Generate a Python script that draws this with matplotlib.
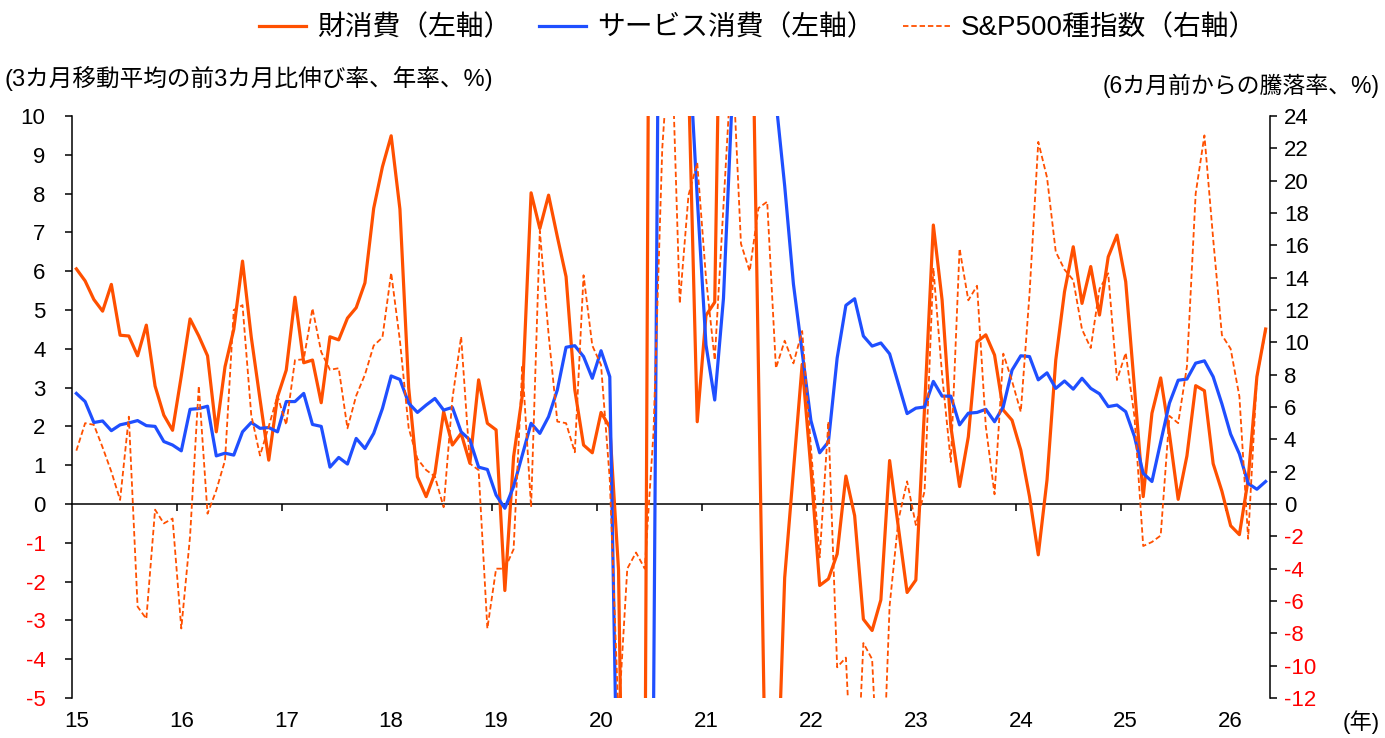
import matplotlib
matplotlib.use("Agg")
import matplotlib.pyplot as plt
from matplotlib.lines import Line2D
from matplotlib.transforms import blended_transform_factory

# monthly data, Jan 2015 - May 2026
goods = [6.06, 5.75, 5.27, 4.97, 5.66, 4.35, 4.33, 3.82, 4.61, 3.04, 2.29, 1.9,
         3.3, 4.77, 4.33, 3.82, 1.86, 3.54, 4.5, 6.26, 4.3, 2.7, 1.13, 2.76,
         3.45, 5.33, 3.64, 3.71, 2.61, 4.31, 4.23, 4.79, 5.06, 5.7, 7.62, 8.69,
         9.49, 7.6, 3.0, 0.7, 0.19, 0.79, 2.38, 1.52, 1.82, 1.05, 3.2, 2.08,
         1.91, -2.23, 1.22, 2.8, 8.02, 7.1, 7.96, 6.89, 5.86, 2.94, 1.52, 1.32,
         2.36, 1.98, -1.7, -17, -30, -9, 40, 45, 30, 15, 11, 2.12,
         4.86, 5.2, 19, 40, 30, 17, 3.5, -10, -8.6, -1.9, 0.85, 3.6,
         0.9, -2.1, -1.93, -1.29, 0.72, -0.3, -2.97, -3.26, -2.47, 1.12, -0.6, -2.28,
         -1.96, 2.5, 7.19, 5.26, 2.0, 0.45, 1.73, 4.18, 4.36, 3.84, 2.42, 2.16,
         1.39, 0.19, -1.31, 0.62, 3.71, 5.47, 6.63, 5.17, 6.12, 4.87, 6.37, 6.93,
         5.73, 3.0, 0.19, 2.34, 3.25, 1.8, 0.12, 1.24, 3.05, 2.92, 1.04, 0.33,
         -0.56, -0.79, 0.63, 3.28, 4.51]

services = [2.85, 2.64, 2.1, 2.14, 1.89, 2.04, 2.09, 2.15, 2.02, 2.0, 1.61, 1.52,
            1.37, 2.44, 2.46, 2.52, 1.24, 1.31, 1.26, 1.86, 2.1, 1.95, 1.97, 1.86,
            2.64, 2.64, 2.85, 2.05, 2.0, 0.95, 1.2, 1.03, 1.69, 1.43, 1.82, 2.46,
            3.3, 3.21, 2.6, 2.36, 2.55, 2.72, 2.42, 2.49, 1.86, 1.65, 0.95, 0.89,
            0.23, -0.11, 0.45, 1.26, 2.08, 1.82, 2.25, 2.94, 4.04, 4.08, 3.8, 3.24,
            3.95, 3.28, -9.7, -40, -45, -15, -5.5, 27, 30, 18, 12, 7.9,
            4.1, 2.68, 5.3, 10.5, 15, 14, 13, 12, 10.4, 8.2, 5.67, 3.92,
            2.15, 1.32, 1.6, 3.76, 5.12, 5.29, 4.33, 4.07, 4.15, 3.87, 3.1, 2.33,
            2.47, 2.5, 3.16, 2.78, 2.78, 2.04, 2.34, 2.36, 2.44, 2.12, 2.51, 3.45,
            3.82, 3.8, 3.2, 3.38, 2.98, 3.17, 2.96, 3.24, 2.98, 2.84, 2.51, 2.55,
            2.38, 1.74, 0.79, 0.58, 1.6, 2.6, 3.19, 3.22, 3.63, 3.69, 3.28, 2.58,
            1.8, 1.29, 0.53, 0.38, 0.58]

sp500 = [3.3, 5.0, 4.9, 3.5, 2.0, 0.25, 5.4, -6.35, -7.1, -0.35, -1.2, -0.9,
         -7.7, -2.0, 7.3, -0.6, 0.85, 2.7, 12.0, 12.3, 5.5, 3.0, 4.8, 6.7,
         4.9, 8.9, 8.95, 12.1, 9.4, 8.3, 8.4, 4.68, 6.7, 8.0, 9.8, 10.3,
         14.3, 10.1, 4.7, 2.8, 2.1, 1.7, -0.2, 6.5, 10.35, 2.5, 2.1, -7.7,
         -4.0, -4.0, -2.8, 8.6, -0.2, 16.9, 10.5, 5.1, 5.0, 3.2, 14.15, 9.8,
         8.6, 1.5, -13.2, -4.0, -3.0, -4.0, 4.45, 22, 30, 12.4, 19.1, 21.1,
         14, 8.9, 18.5, 28, 16.1, 14.4, 18.3, 18.7, 8.4, 10.1, 8.7, 10.7,
         3.5, -3.3, 5.1, -10.1, -9.5, -20.6, -8.6, -9.6, -20.8, -6.3, -1.0, 1.4,
         -1.3, 0.8, 14.6, 8.0, 2.6, 15.8, 12.6, 13.5, 4.8, 0.6, 9.3, 7.6,
         5.7, 13.0, 22.4, 20.2, 15.6, 14.5, 13.85, 10.8, 9.65, 13.3, 14.27, 7.67,
         9.35, 5.4, -2.6, -2.35, -1.95, 5.45, 5.0, 8.5, 19.2, 22.8, 16.4, 10.45,
         9.6, 6.65, -2.15, 7.87, 10.7]

year_labels = ['15', '16', '17', '18', '19', '20', '21', '22', '23', '24', '25', '26']
left_ticks = list(range(-5, 11))
right_ticks = list(range(-12, 25, 2))

orange = '#FF5000'
blue = '#1F4FFF'
plt.rcParams['font.family'] = ['Liberation Sans', 'Noto Sans CJK JP', 'DejaVu Sans']

fig = plt.figure(figsize=(13.85, 7.38), dpi=100)
ax = fig.add_axes([72 / 1385, 40 / 738, 1198 / 1385, 582 / 738])
ax2 = ax.twinx()

x = list(range(len(goods)))
ax.plot(x, goods, color=orange, lw=2.3, zorder=3)
ax.plot(x, services, color=blue, lw=2.3, zorder=3)
ax2.plot(x, sp500, color=orange, lw=1.3, linestyle=(0, (3, 1.6)))

ax.set_xlim(-0.5, len(goods) - 0.5)
ax.set_ylim(-5, 10)
ax2.set_ylim(-12, 24)

# x axis sits on the zero line, ticks at year boundaries
ax.spines['top'].set_visible(False)
ax.spines['right'].set_visible(False)
ax.spines['bottom'].set_position(('data', 0))
for a in (ax, ax2):
    for s in a.spines.values():
        s.set_linewidth(1.1)
ax2.spines['top'].set_visible(False)
ax2.spines['left'].set_visible(False)
ax2.spines['bottom'].set_visible(False)

ax.set_xticks([12 * k - 0.5 for k in range(1, len(year_labels))])
ax.tick_params(axis='x', direction='out', length=5, width=1.1, labelbottom=False)
trans = blended_transform_factory(ax.transData, ax.transAxes)
for k, lab in enumerate(year_labels):
    ax.text(12 * k, -0.041, lab, transform=trans, ha='center', va='center', fontsize=16)

ax.set_yticks(left_ticks)
ax.set_yticklabels([str(t) for t in left_ticks])
ax.tick_params(axis='y', direction='out', length=5, width=1.1, labelsize=16, pad=14)
for t, lab in zip(left_ticks, ax.get_yticklabels()):
    lab.set_color('#FF0000' if t < 0 else 'black')

ax2.set_yticks(right_ticks)
ax2.set_yticklabels([str(t) for t in right_ticks])
ax2.tick_params(axis='y', direction='out', length=5, width=1.1, labelsize=16, pad=5)
for t, lab in zip(right_ticks, ax2.get_yticklabels()):
    lab.set_color('#FF0000' if t < 0 else 'black')

fig.text(5 / 1385, 1 - 78 / 738, '(3カ月移動平均の前3カ月比伸び率、年率、%)',
         ha='left', va='center', fontsize=17)
fig.text(1380 / 1385, 1 - 86 / 738, '(6カ月前からの騰落率、%)',
         ha='right', va='center', fontsize=16.5)
fig.text(1380 / 1385, 1 - 722 / 738, '(年)', ha='right', va='center', fontsize=16)

handles = [Line2D([], [], color=orange, lw=2.3),
           Line2D([], [], color=blue, lw=2.3),
           Line2D([], [], color=orange, lw=1.3, linestyle=(0, (3, 1.6)))]
labels = ['財消費（左軸）', 'サービス消費（左軸）', 'S&P500種指数（右軸）']
fig.legend(handles, labels, loc='center', bbox_to_anchor=(758 / 1385, 1 - 28 / 738),
           ncol=3, frameon=False, fontsize=20, handlelength=1.7, handletextpad=0.4,
           columnspacing=1.0)

fig.savefig('out.png', dpi=100)
